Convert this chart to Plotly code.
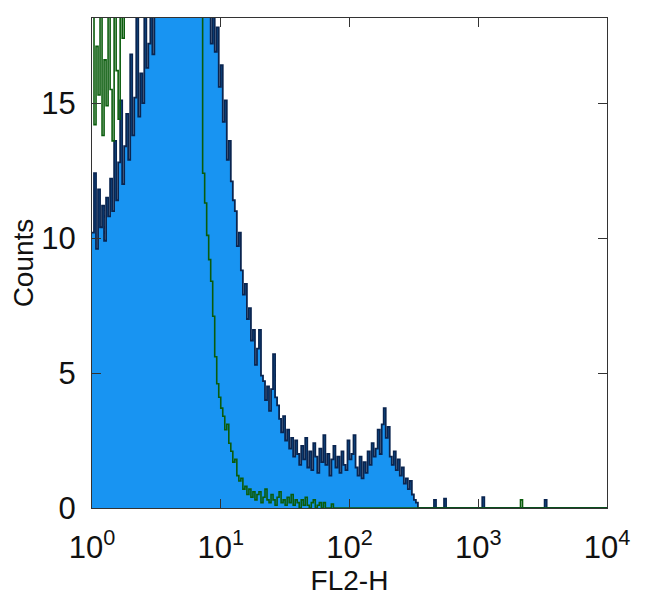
import plotly.graph_objects as go

# Histogram: 64 channels per decade over 4 decades (256 channels), log10 scale 10^0 .. 10^4
channels_per_decade = 64

# Stained sample (filled blue histogram), counts per channel
blue_counts = [
    10.2, 12.4, 9.6, 11.8, 10.4, 11.2, 9.9, 11.5, 10.8, 12.2, 11.0, 13.6, 11.4, 12.8, 15.1, 12.0, 13.4,
    14.6, 12.9, 16.8, 13.8, 15.2, 18.9, 14.5, 16.1, 15.0, 19.4, 16.3, 17.2, 20.1, 16.8, 18.6,
    19.5, 21.0, 20.3, 22.4, 21.8, 23.0, 22.2, 24.1, 23.5, 24.8, 23.9, 25.2, 24.6, 24.0, 25.5, 24.3,
    23.6, 24.4, 22.9, 23.2, 21.8, 22.5, 20.9, 21.4, 20.2,
    19.6, 20.4, 17.2, 18.6, 16.9,
    17.8, 15.6, 16.4,
    14.3, 15.1, 12.9,
    13.6, 12.1, 11.4,
    11.0, 9.7, 10.2, 8.8,
    7.9, 8.3, 7.0,
    7.4, 6.2, 6.6,
    5.3, 5.9, 6.6, 4.9,
    4.7, 4.0, 4.5, 3.6,
    4.4, 5.7, 4.1, 3.8,
    3.3, 2.8, 3.4, 2.5,
    2.9, 2.2, 2.6, 1.9,
    2.5, 2.0, 1.6, 2.3, 1.8, 2.6, 1.5, 2.1, 1.4, 2.4, 1.9, 1.3, 2.2, 1.7, 2.7,
    1.6, 2.0, 1.2, 1.8, 2.3, 1.5, 1.9, 1.3, 2.1, 1.6, 1.4, 2.5, 1.8, 2.0, 2.7,
    1.5, 1.2, 1.9, 1.1, 1.7, 1.3, 2.1, 1.6, 2.4, 1.9,
    2.2, 2.9, 2.0, 3.1, 3.7, 2.6, 3.0, 1.9,
    1.6, 2.1, 1.4, 1.8,
    1.2, 1.5, 0.9, 1.1, 0.7, 1.0,
    0.5, 0.3, 0.2, 0.0,
    0, 0, 0, 0, 0, 0, 0, 0.3, 0, 0, 0, 0, 0.35, 0, 0, 0,
    0, 0, 0, 0, 0, 0, 0, 0, 0, 0, 0, 0, 0, 0, 0,
    0.4, 0, 0, 0, 0, 0, 0, 0, 0, 0, 0, 0, 0, 0, 0, 0,
    0, 0, 0, 0, 0, 0, 0, 0, 0, 0, 0, 0, 0, 0, 0,
    0.3, 0, 0, 0, 0, 0, 0, 0, 0, 0, 0, 0, 0, 0, 0, 0, 0, 0, 0, 0, 0, 0, 0, 0, 0, 0, 0, 0, 0, 0, 0,
]

# Isotype control (green line), counts per channel
green_counts = [
    19.5, 14.2, 17.1, 15.3, 20.2, 13.8, 16.6, 14.9, 18.7, 15.5, 13.6, 19.8, 16.2, 14.4, 20.5, 17.4, 21.0,
    22, 24, 23, 26, 25, 27, 26, 28, 27, 29, 28, 30, 29, 30, 29, 28, 29, 27, 28, 26, 27, 25, 26, 24,
    25, 23, 24, 22, 23, 21, 22, 20.5, 21.5, 22.0, 20.4, 19.6, 19.0, 18.6,
    12.4, 11.3, 10.1, 9.2, 8.4, 7.1, 5.6, 4.6, 4.1, 3.7, 3.4, 2.9, 3.1, 2.4, 2.1, 1.7, 1.8, 1.2,
    1.0, 1.1, 0.7, 0.8, 0.5, 0.7, 0.4, 0.6, 0.3, 0.5, 0.6, 0.2, 0.4, 0.7, 0.3, 0.2, 0.5, 0.3,
    0.1, 0.4, 0.6, 0.2, 0.3, 0.1, 0.4, 0.2, 0.5, 0.1, 0.3, 0.2, 0.0, 0.3, 0.1, 0.4, 0.1, 0.0,
    0.2, 0.3, 0.0, 0.1, 0.2, 0.0, 0.2, 0, 0, 0, 0.15,
]
green_counts = green_counts + [0] * (256 - len(green_counts))
green_counts[213] = 0.3
blue_counts = (blue_counts + [0] * 256)[:256]

x_tick_values = [1, 10, 100, 1000, 10000]
x_tick_labels = ["10<sup>0</sup>", "10<sup>1</sup>", "10<sup>2</sup>", "10<sup>3</sup>", "10<sup>4</sup>"]
y_tick_values = [0, 5, 10, 15]
y_tick_labels = ["0", "5", "10", "15"]

# channel left edges (log scale) + final edge for step drawing
edges = [10 ** (i / channels_per_decade) for i in range(257)]
blue_y = blue_counts + [blue_counts[-1]]
green_y = green_counts + [green_counts[-1]]

fig = go.Figure()
fig.add_trace(go.Scatter(
    x=edges, y=blue_y, mode="lines", line=dict(shape="hv", color="#0a2550", width=1.8),
    fill="tozeroy", fillcolor="rgb(24,148,242)", showlegend=False,
))
fig.add_trace(go.Scatter(
    x=edges, y=green_y, mode="lines", line=dict(shape="hv", color="#0a5c0c", width=1.6),
    showlegend=False,
))

# the page body adds an 8px offset, so the figure is sized/margined to compensate
font_family = "Liberation Sans, Arial, sans-serif"
fig.update_layout(
    width=642, height=607,
    margin=dict(l=84, r=43, t=10, b=107),
    paper_bgcolor="white", plot_bgcolor="white",
    font=dict(family=font_family, size=30, color="#111111"),
)
fig.update_xaxes(
    type="log", range=[0, 4], tickvals=x_tick_values, ticktext=x_tick_labels,
    ticks="inside", ticklen=9, tickcolor="#333333", showline=True, linecolor="#333333",
    linewidth=1.2, mirror="ticks", showgrid=False, zeroline=False, automargin=False,
    ticklabelstandoff=12,
    title=dict(text="FL2-H", font=dict(size=28), standoff=5),
    tickfont=dict(size=31),
)
fig.update_yaxes(
    range=[0, 18.15], tickvals=y_tick_values, ticktext=y_tick_labels,
    ticks="inside", ticklen=9, tickcolor="#333333", showline=True, linecolor="#333333",
    linewidth=1.2, mirror="ticks", showgrid=False, zeroline=False, automargin=False,
    ticklabelstandoff=9,
    title=dict(text="Counts", font=dict(size=28), standoff=8),
    tickfont=dict(size=31),
)

fig.write_html("out.html")
